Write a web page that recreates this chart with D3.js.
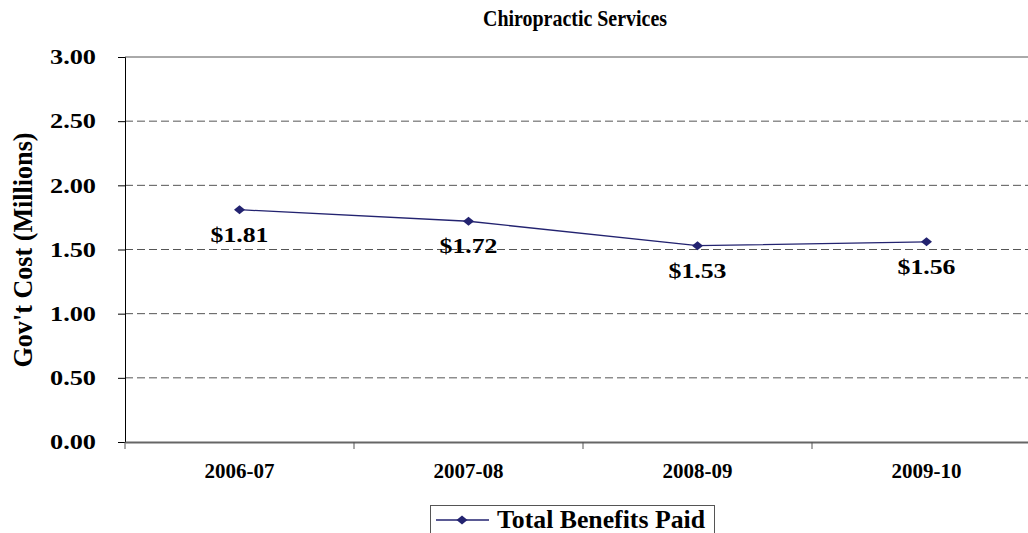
<!DOCTYPE html>
<html><head><meta charset="utf-8">
<script src="https://cdn.jsdelivr.net/npm/d3@7"></script>
<style>body{margin:0;background:#fff;}svg{display:block;font-family:"Liberation Serif","Times New Roman",serif;font-weight:bold;}</style>
</head><body><svg id="c" width="1028" height="533"></svg>
<script>
const categories = ["2006-07","2007-08","2008-09","2009-10"];
const values = [1.81, 1.72, 1.53, 1.56];
const valueLabels = ["$1.81","$1.72","$1.53","$1.56"];
const yTicks = [0, 0.5, 1, 1.5, 2, 2.5, 3];
const title = "Chiropractic Services";
const yTitle = "Gov't Cost (Millions)";
const seriesName = "Total Benefits Paid";

(function () {
const FONT = "Liberation Serif, Times New Roman, serif";
const svg = d3.select("#c");
const mLeft = 125, mRight = 1041, mTop = 57, mBottom = 442;
const x = d3.scaleBand().domain(categories).range([mLeft, mRight]);
const y = d3.scaleLinear().domain([0, 3]).range([mBottom, mTop]);
const navy = "#232370";
const diamond = { draw(ctx, size) { const w = 5.5, h = 4.5; ctx.moveTo(0, -h); ctx.lineTo(w, 0); ctx.lineTo(0, h); ctx.lineTo(-w, 0); ctx.closePath(); } };
const sym = d3.symbol().type(diamond);

// gridlines
svg.append("g").selectAll("line").data(yTicks.filter(t => t > 0)).join("line")
  .attr("x1", mLeft).attr("x2", 1028).attr("y1", d => y(d)).attr("y2", d => y(d))
  .attr("stroke", "#555").attr("stroke-width", 1)
  .attr("stroke-dasharray", d => d === 3 ? null : "8,4");

// y axis
const ya = svg.append("g").attr("transform", `translate(${mLeft},0)`)
  .call(d3.axisLeft(y).tickValues(yTicks).tickFormat(d3.format(".2f")).tickSize(7).tickPadding(22));
ya.attr("font-family", FONT);
ya.select(".domain").attr("stroke", "#000");
ya.selectAll(".tick line").attr("stroke", "#000");
ya.selectAll("text").attr("font-size", 21).attr("font-family", FONT).attr("font-weight", "bold").attr("fill", "#000")
  .attr("textLength", 46).attr("lengthAdjust", "spacingAndGlyphs");

// x axis
const xa = svg.append("g").attr("transform", `translate(0,${mBottom})`)
  .call(d3.axisBottom(x).tickSize(0).tickPadding(21));
xa.attr("font-family", FONT);
xa.select(".domain").attr("stroke", "#666").attr("stroke-width", 2);
xa.selectAll("text").attr("font-size", 21).attr("font-family", FONT).attr("font-weight", "bold").attr("fill", "#000")
  .attr("textLength", 70).attr("lengthAdjust", "spacingAndGlyphs");
svg.append("g").selectAll("line").data(categories).join("line")
  .attr("x1", d => x(d)).attr("x2", d => x(d)).attr("y1", mBottom).attr("y2", mBottom + 7)
  .attr("stroke", "#555");

// line
const line = d3.line().x((d, i) => x(categories[i]) + x.bandwidth() / 2).y(d => y(d));
svg.append("path").datum(values).attr("d", line).attr("fill", "none").attr("stroke", navy).attr("stroke-width", 1.3);
svg.append("g").selectAll("path").data(values).join("path")
  .attr("transform", (d, i) => `translate(${x(categories[i]) + x.bandwidth() / 2},${y(d)})`)
  .attr("d", sym).attr("fill", navy);

// value labels
svg.append("g").selectAll("text").data(values).join("text")
  .attr("x", (d, i) => x(categories[i]) + x.bandwidth() / 2)
  .attr("y", d => y(d) + 32)
  .attr("text-anchor", "middle").attr("font-size", 21).attr("font-family", FONT).attr("fill", "#000")
  .attr("textLength", 58).attr("lengthAdjust", "spacingAndGlyphs")
  .text((d, i) => valueLabels[i]);

// title
svg.append("text").attr("x", 575).attr("y", 26).attr("text-anchor", "middle").attr("font-size", 24)
  .attr("font-family", FONT).attr("textLength", 184).attr("lengthAdjust", "spacingAndGlyphs").text(title);

// y title
svg.append("text").attr("transform", "translate(32,250) rotate(-90)").attr("text-anchor", "middle")
  .attr("font-size", 28).attr("font-family", FONT).attr("textLength", 235).attr("lengthAdjust", "spacingAndGlyphs").text(yTitle);

// legend
const lg = svg.append("g");
lg.append("rect").attr("x", 430.5).attr("y", 505.5).attr("width", 284).attr("height", 40).attr("fill", "#fff").attr("stroke", "#555");
lg.append("line").attr("x1", 436).attr("x2", 489).attr("y1", 520).attr("y2", 520).attr("stroke", navy).attr("stroke-width", 1.3);
lg.append("path").attr("transform", "translate(462,520)").attr("d", sym).attr("fill", navy);
lg.append("text").attr("x", 497).attr("y", 528).attr("font-size", 25).attr("font-family", FONT)
  .attr("textLength", 208).attr("lengthAdjust", "spacingAndGlyphs").text(seriesName);
})();
</script></body></html>
